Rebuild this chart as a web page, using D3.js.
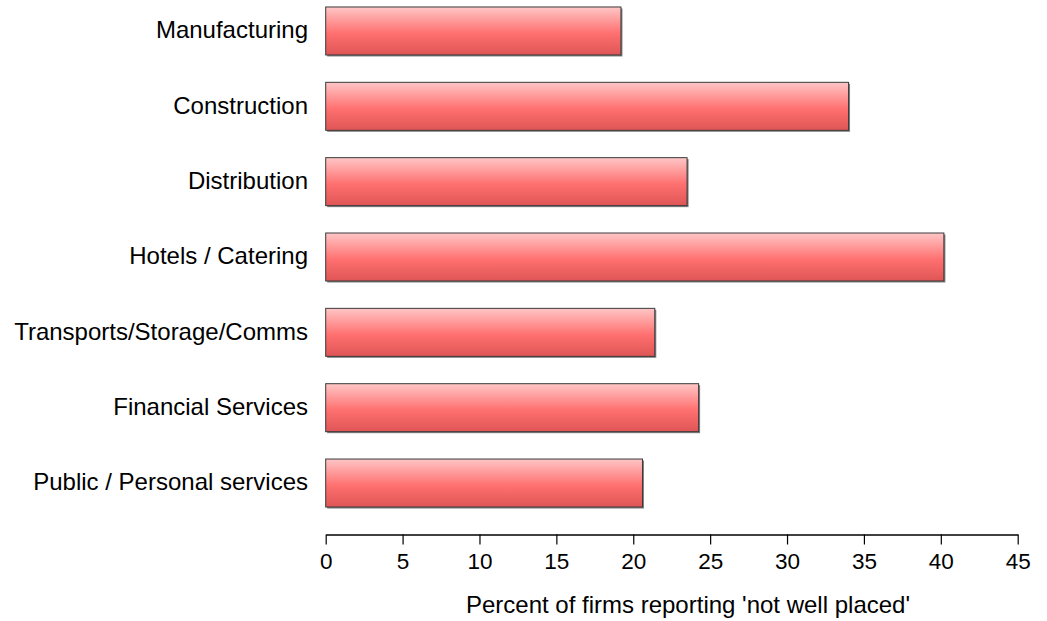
<!DOCTYPE html>
<html>
<head>
<meta charset="utf-8">
<script src="https://cdn.jsdelivr.net/npm/d3@7"></script>
<style>
  html, body { margin: 0; padding: 0; background: #fff; }
  svg text { font-family: "Liberation Sans", Arial, sans-serif; fill: #000; }
</style>
</head>
<body>
<svg id="chart" width="1047" height="621"></svg>
<script>
// Sectors and share of firms reporting 'not well placed' (%)
const categories = [
  "Manufacturing",
  "Construction",
  "Distribution",
  "Hotels / Catering",
  "Transports/Storage/Comms",
  "Financial Services",
  "Public / Personal services"
];
const values = [19.2, 34.0, 23.5, 40.2, 21.4, 24.25, 20.6];
const tickValues = [0, 5, 10, 15, 20, 25, 30, 35, 40, 45];
const axisTitle = "Percent of firms reporting 'not well placed'";

const svg = d3.select("#chart");
const labelSize = 24;
const tickSize = 22.5;

const x = d3.scaleLinear().domain([0, 45]).range([325.7, 1017.7]);
const y = d3.scaleBand()
  .domain(categories)
  .range([-6.7, 520.7])
  .paddingInner(0.363)
  .paddingOuter(0.1815);

// Vertical gradient for the bars
const defs = svg.append("defs");
const grad = defs.append("linearGradient")
  .attr("id", "barFill")
  .attr("x1", 0).attr("y1", 0).attr("x2", 0).attr("y2", 1);
grad.append("stop").attr("offset", "0%").attr("stop-color", "#ffc6c6");
grad.append("stop").attr("offset", "55%").attr("stop-color", "#ff7070");
grad.append("stop").attr("offset", "100%").attr("stop-color", "#df5555");

const rows = categories.map((c, i) => ({ cat: c, val: values[i] }));

// Soft shadow behind each bar
svg.append("g").selectAll("rect")
  .data(rows)
  .join("rect")
  .attr("x", x(0) + 1.5)
  .attr("y", d => y(d.cat) + 1.5)
  .attr("width", d => x(d.val) - x(0))
  .attr("height", y.bandwidth())
  .attr("fill", "#000")
  .attr("opacity", 0.5);

// Bars
svg.append("g").selectAll("rect")
  .data(rows)
  .join("rect")
  .attr("x", x(0))
  .attr("y", d => y(d.cat))
  .attr("width", d => x(d.val) - x(0))
  .attr("height", y.bandwidth())
  .attr("fill", "url(#barFill)")
  .attr("stroke", "#3a3a3a")
  .attr("stroke-width", 1);

// Category labels
svg.append("g").selectAll("text")
  .data(rows)
  .join("text")
  .attr("x", 308)
  .attr("y", d => y(d.cat) + y.bandwidth() / 2)
  .attr("dy", "0.3em")
  .attr("text-anchor", "end")
  .style("font-size", labelSize + "px")
  .text(d => d.cat);

// Bottom axis
const axis = d3.axisBottom(x)
  .tickValues(tickValues)
  .tickSize(10)
  .tickSizeOuter(0)
  .tickPadding(9);
const gx = svg.append("g")
  .attr("transform", "translate(0,534.5)")
  .call(axis);
gx.select(".domain").attr("stroke", "#000").attr("stroke-width", 1.6);
gx.selectAll(".tick line").attr("stroke", "#000").attr("stroke-width", 1.2);
gx.selectAll(".tick text")
  .style("font-size", tickSize + "px")
  .style("font-family", "'Liberation Sans', Arial, sans-serif")
  .attr("fill", "#000");

// Axis title
svg.append("text")
  .attr("x", 688)
  .attr("y", 613)
  .attr("text-anchor", "middle")
  .style("font-size", labelSize + "px")
  .text(axisTitle);
</script>
</body>
</html>
